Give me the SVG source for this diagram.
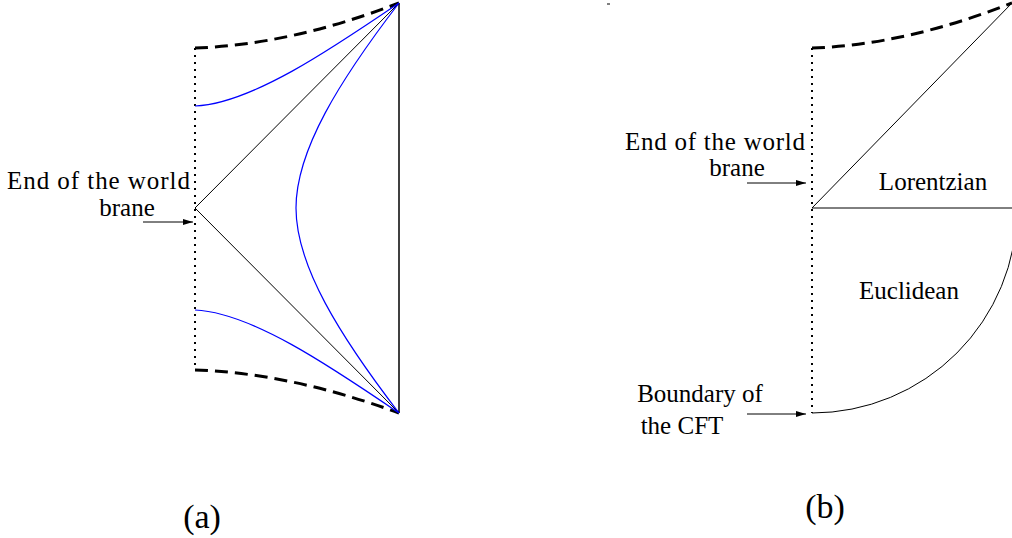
<svg xmlns="http://www.w3.org/2000/svg" width="1012" height="538" viewBox="0 0 1012 538">
<style>
text{font-family:"Times New Roman","Liberation Serif",Tinos,"Noto Serif","DejaVu Serif",serif;font-size:25px;fill:#000}
.big{font-size:34px}
.thin{fill:none;stroke:#000;stroke-width:1}
.blue{fill:none;stroke:#0000ff;stroke-width:1.2}
.dash{fill:none;stroke:#000;stroke-width:3;stroke-dasharray:13 7}
.dot{fill:none;stroke:#000;stroke-width:2;stroke-dasharray:2 5}
.arr{fill:none;stroke:#000;stroke-width:1;marker-end:url(#ah)}
</style>
<defs>
<marker id="ah" viewBox="0 0 10 6" refX="10" refY="3" markerWidth="10" markerHeight="6" markerUnits="userSpaceOnUse" orient="auto">
<path d="M0,0 L10,3 L0,6 z" fill="#000"/>
</marker>
</defs>
<g id="figure-a">
<path class="dot" d="M195,48 V370"/>
<path class="dash" d="M195,48 Q290,45 399,3"/>
<path class="dash" d="M195,370 Q290,373 399,413"/>
<path d="M399,3 V413" fill="none" stroke="#000" stroke-width="1.5"/>
<path class="thin" d="M399,3 L195,208 L399,413"/>
<path class="blue" d="M195,106 C250,104 330,50 399,3"/>
<path class="blue" d="M195,310 C250,312 330,366 399,413"/>
<path class="blue" d="M399,3 C340,80 296,150 296,208 C296,266 340,336 399,413"/>
</g>
<g id="figure-b">
<path class="dot" d="M812,48 V413"/>
<path class="dash" d="M812,48 Q905,45 1012,3"/>
<path class="thin" d="M812,208 L1012,3"/>
<path class="thin" d="M812,208 H1012"/>
<path class="thin" d="M812,413 A205,205 0 0 0 1017,208"/>
<path class="thin" d="M607,4 H610"/>
</g>
<g id="connectors">
<path class="arr" d="M143,222 H193"/>
<path class="arr" d="M747,183 H806"/>
<path class="arr" d="M747,414 H806"/>
</g>
<g id="labels">
<text x="190" y="189" text-anchor="end" textLength="183" lengthAdjust="spacing">End of the world</text>
<text x="127" y="216" text-anchor="middle">brane</text>
<text x="805" y="150" text-anchor="end" textLength="180" lengthAdjust="spacing">End of the world</text>
<text x="737" y="176" text-anchor="middle">brane</text>
<text x="933" y="190" text-anchor="middle">Lorentzian</text>
<text x="909" y="299" text-anchor="middle">Euclidean</text>
<text x="700" y="402" text-anchor="middle">Boundary of</text>
<text x="682" y="434" text-anchor="middle">the CFT</text>
<text class="big" x="202" y="528" text-anchor="middle">(a)</text>
<text class="big" x="825" y="518" text-anchor="middle">(b)</text>
</g>
</svg>
